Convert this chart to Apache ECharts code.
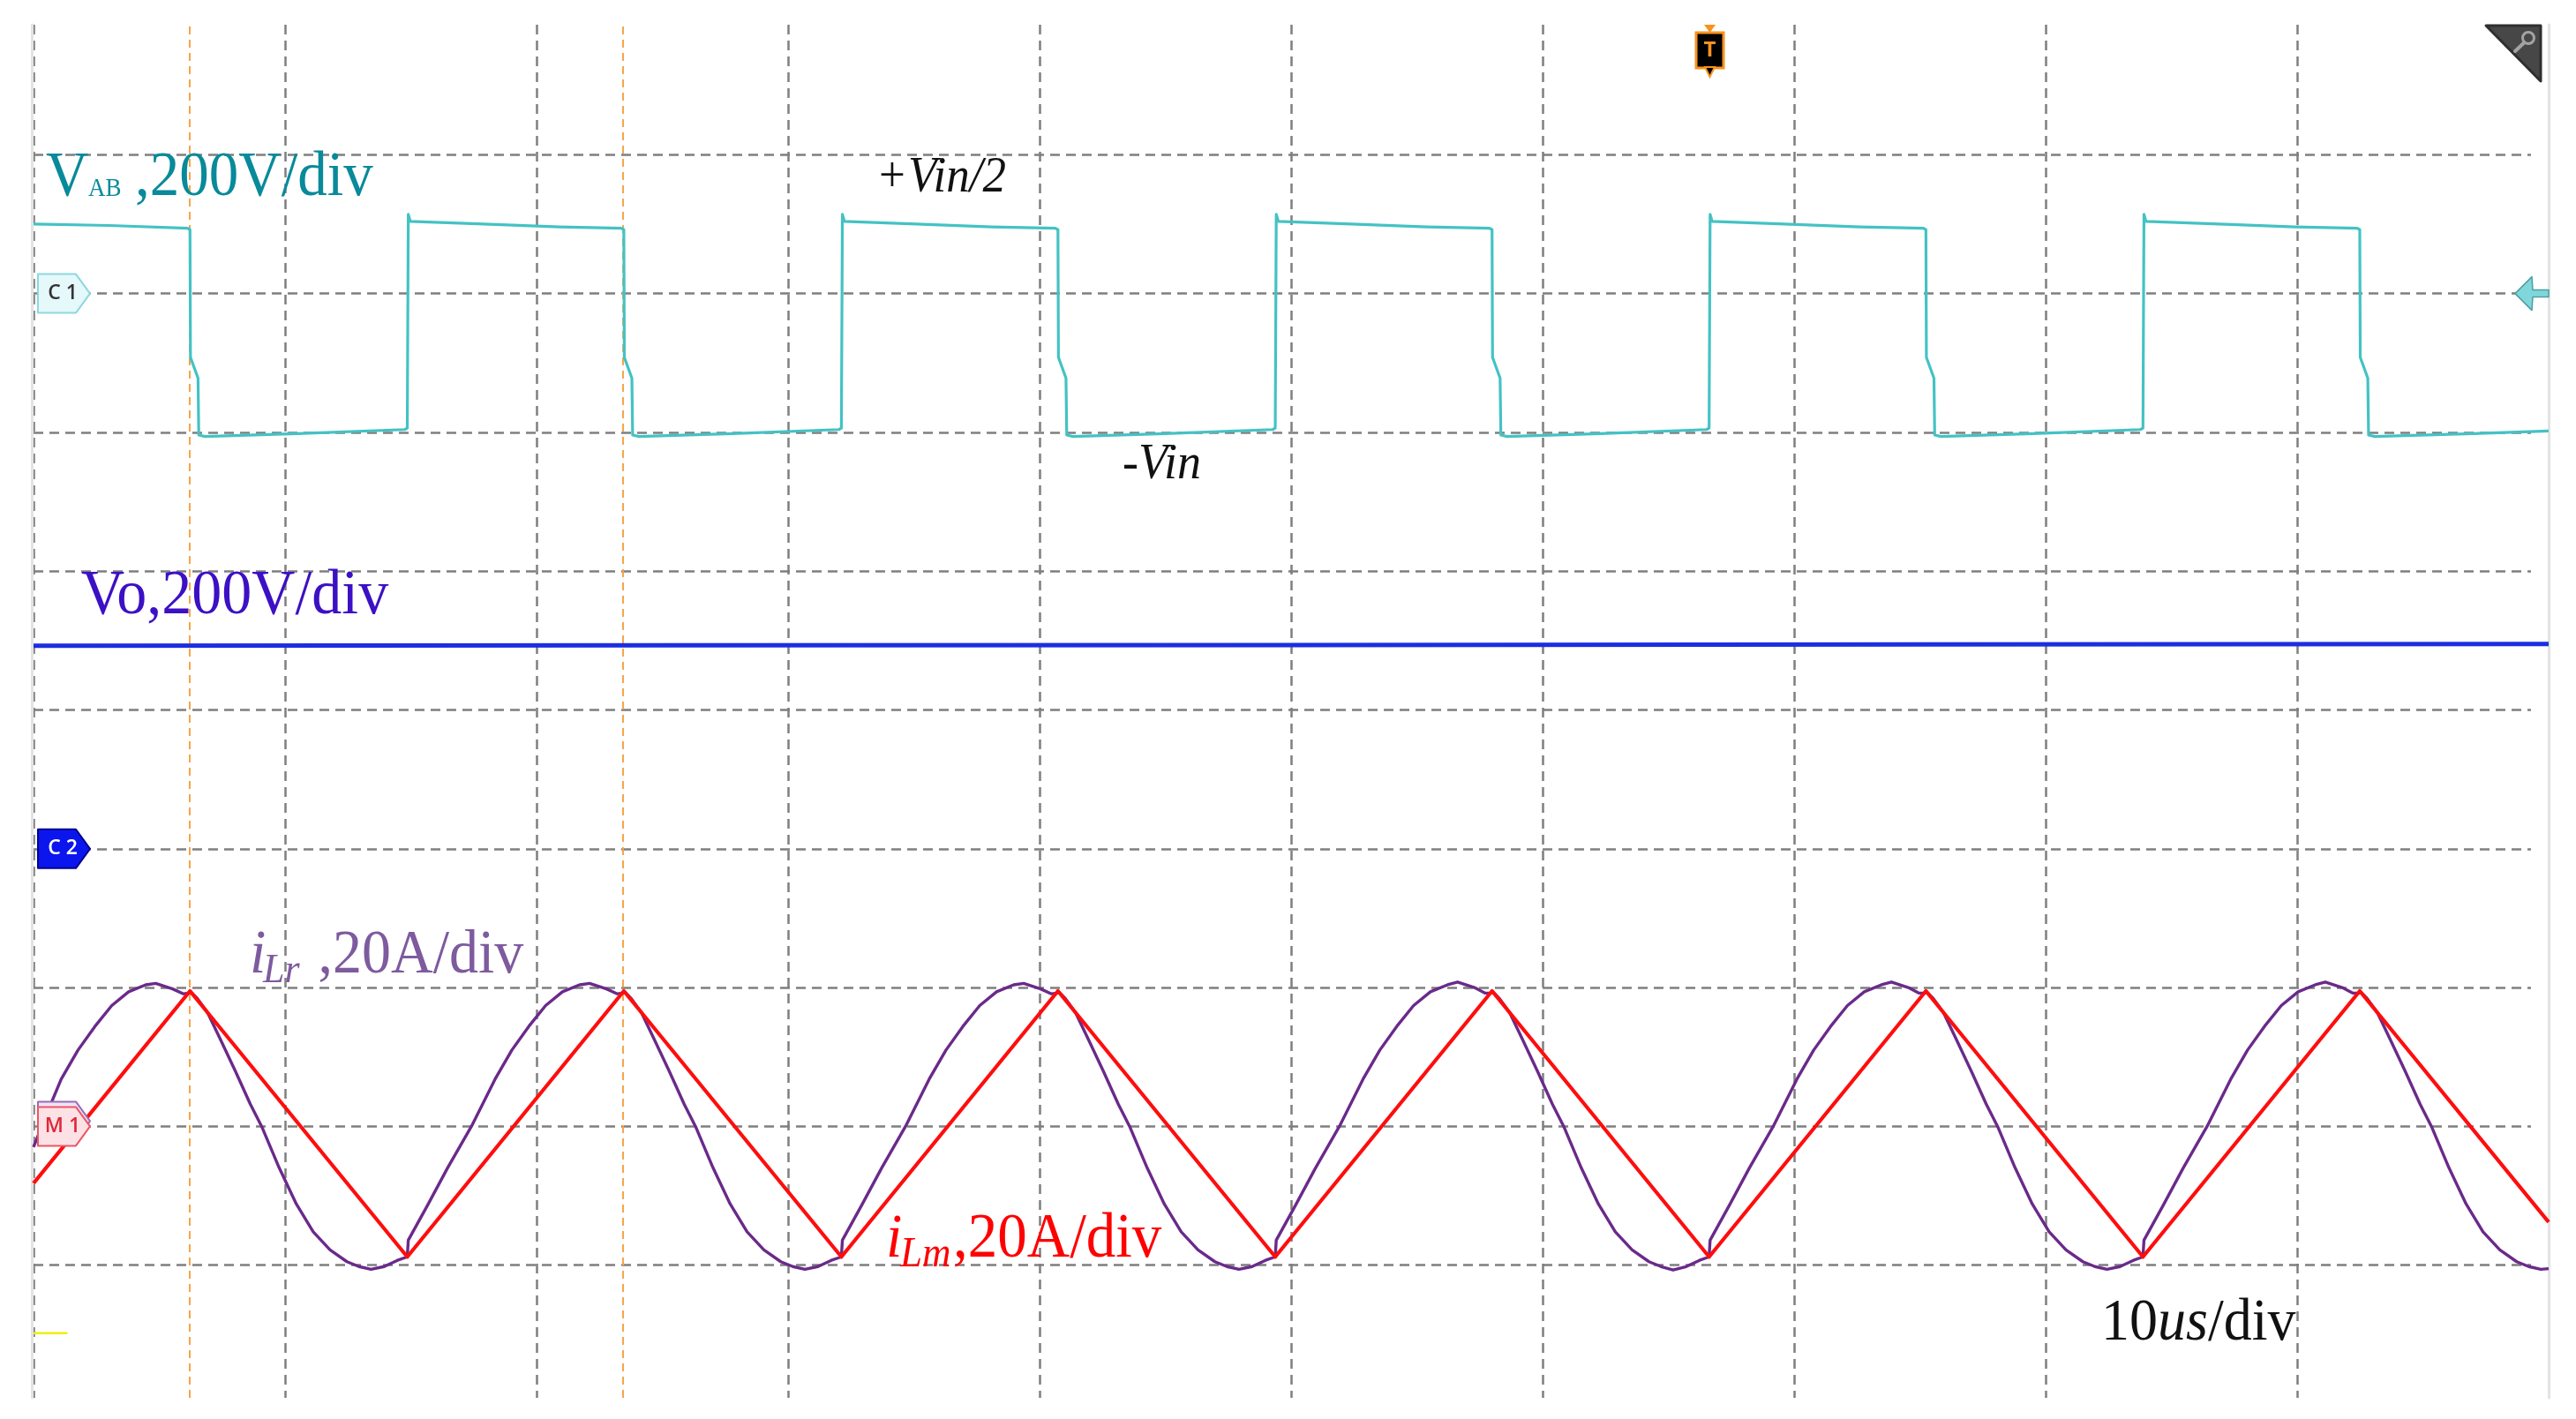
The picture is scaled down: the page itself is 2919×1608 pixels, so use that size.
<!DOCTYPE html>
<html>
<head>
<meta charset="utf-8">
<script src="https://cdn.jsdelivr.net/npm/echarts@6/dist/echarts.min.js"></script>
<style>
html,body{margin:0;padding:0;background:#ffffff;}
#chart{width:2919px;height:1608px;}
</style>
</head>
<body>
<div id="chart"></div>
<script>
// ---------------- data (screen divisions: 10 horizontal x 10 vertical, 10us/div) ----------------
const xDivMin = 0, xDivMax = 10;
const yDivMin = 0, yDivMax = 10;

// cursor (orange) positions, in divisions
const cursorTimes = [0.621, 2.344];

// channel reference levels (divisions)
const levelC1 = 8;   // VAB zero
const levelC2 = 4;   // Vo zero
const levelM1 = 2;   // current zero
const yellowLevel = 0.51;

// VAB trace [time(div), level(div)]
const vabPoints = [
  [0, 8.50], [0.30, 8.49], [0.612, 8.47],
  [0.622, 8.46], [0.624, 7.54], [0.654, 7.39], [0.657, 6.98], [0.682, 6.97], [1.05, 6.99], [1.476, 7.02], [1.486, 7.03],
  [1.490, 8.57], [1.498, 8.52], [1.79, 8.50], [2.09, 8.48], [2.337, 8.47],
  [2.347, 8.46], [2.349, 7.54], [2.379, 7.39], [2.382, 6.98], [2.407, 6.97], [2.78, 6.99], [3.202, 7.02], [3.212, 7.03],
  [3.216, 8.57], [3.224, 8.52], [3.51, 8.50], [3.81, 8.48], [4.063, 8.47],
  [4.073, 8.46], [4.075, 7.54], [4.105, 7.39], [4.108, 6.98], [4.133, 6.97], [4.50, 6.99], [4.927, 7.02], [4.937, 7.03],
  [4.941, 8.57], [4.949, 8.52], [5.24, 8.50], [5.54, 8.48], [5.789, 8.47],
  [5.799, 8.46], [5.801, 7.54], [5.831, 7.39], [5.834, 6.98], [5.859, 6.97], [6.23, 6.99], [6.652, 7.02], [6.662, 7.03],
  [6.666, 8.57], [6.674, 8.52], [6.96, 8.50], [7.26, 8.48], [7.514, 8.47],
  [7.524, 8.46], [7.526, 7.54], [7.556, 7.39], [7.559, 6.98], [7.584, 6.97], [7.95, 6.99], [8.377, 7.02], [8.387, 7.03],
  [8.391, 8.57], [8.399, 8.52], [8.69, 8.50], [8.99, 8.48], [9.239, 8.47],
  [9.249, 8.46], [9.251, 7.54], [9.281, 7.39], [9.284, 6.98], [9.309, 6.97], [9.70, 6.99], [10, 7.01]
];

// Vo trace
const voPoints = [[0, 5.462], [2.5, 5.466], [5, 5.468], [7.5, 5.472], [10, 5.476]];

// iLm (triangular) trace
const ilmTimes  = [0, 0.622, 1.486, 2.347, 3.212, 4.073, 4.937, 5.799, 6.662, 7.524, 8.387, 9.249, 10];
const ilmValues = [1.59, 2.975, 1.06, 2.975, 1.06, 2.975, 1.06, 2.975, 1.06, 2.975, 1.06, 2.975, 1.31];

// iLr (resonant) trace
const ilrPoints = [
  [0, 1.85], [0.05, 2.08], [0.110, 2.34], [0.177, 2.55], [0.244, 2.72], [0.311, 2.87], [0.378, 2.97], [0.446, 3.02], [0.486, 3.03], [0.553, 2.99], [0.596, 2.955], [0.619, 2.96],
  [0.622, 2.975], [0.652, 2.92], [0.692, 2.82], [0.742, 2.63], [0.802, 2.40], [0.862, 2.16], [0.907, 2.00], [0.977, 1.70], [1.045, 1.44], [1.112, 1.24], [1.179, 1.11], [1.246, 1.025], [1.294, 0.99], [1.342, 0.97], [1.394, 0.99], [1.447, 1.035],
  [1.486, 1.06], [1.490, 1.18], [1.566, 1.43], [1.646, 1.70], [1.741, 2.00], [1.835, 2.34], [1.902, 2.55], [1.969, 2.72], [2.036, 2.87], [2.103, 2.97], [2.171, 3.02], [2.211, 3.03], [2.278, 2.99], [2.321, 2.955], [2.344, 2.96],
  [2.347, 2.975], [2.377, 2.92], [2.417, 2.82], [2.467, 2.63], [2.527, 2.40], [2.587, 2.16], [2.632, 2.00], [2.702, 1.70], [2.770, 1.44], [2.837, 1.24], [2.904, 1.11], [2.971, 1.025], [3.019, 0.99], [3.067, 0.97], [3.119, 0.99], [3.172, 1.035],
  [3.212, 1.06], [3.216, 1.18], [3.292, 1.43], [3.372, 1.70], [3.467, 2.00], [3.561, 2.34], [3.628, 2.55], [3.695, 2.72], [3.762, 2.87], [3.829, 2.97], [3.897, 3.02], [3.937, 3.03], [4.004, 2.99], [4.047, 2.955], [4.070, 2.96],
  [4.073, 2.975], [4.103, 2.92], [4.143, 2.82], [4.193, 2.63], [4.253, 2.40], [4.313, 2.16], [4.358, 2.00], [4.428, 1.70], [4.496, 1.44], [4.563, 1.24], [4.630, 1.11], [4.697, 1.025], [4.745, 0.99], [4.793, 0.97], [4.845, 0.99], [4.898, 1.035],
  [4.937, 1.06], [4.941, 1.18], [5.017, 1.43], [5.097, 1.70], [5.192, 2.00], [5.286, 2.34], [5.353, 2.55], [5.420, 2.72], [5.487, 2.87], [5.554, 2.97], [5.622, 3.02], [5.662, 3.04], [5.729, 3.00], [5.772, 2.96], [5.795, 2.96],
  [5.799, 2.975], [5.829, 2.92], [5.869, 2.82], [5.919, 2.63], [5.979, 2.40], [6.039, 2.16], [6.084, 2.00], [6.154, 1.70], [6.222, 1.44], [6.289, 1.24], [6.356, 1.11], [6.423, 1.025], [6.471, 0.99], [6.519, 0.965], [6.571, 0.99], [6.624, 1.035],
  [6.662, 1.06], [6.666, 1.18], [6.742, 1.43], [6.822, 1.70], [6.917, 2.00], [7.011, 2.34], [7.078, 2.55], [7.145, 2.72], [7.212, 2.87], [7.279, 2.97], [7.347, 3.02], [7.387, 3.04], [7.454, 3.00], [7.497, 2.96], [7.520, 2.96],
  [7.524, 2.975], [7.554, 2.92], [7.594, 2.82], [7.644, 2.63], [7.704, 2.40], [7.764, 2.16], [7.809, 2.00], [7.879, 1.70], [7.947, 1.44], [8.014, 1.24], [8.081, 1.11], [8.148, 1.025], [8.196, 0.99], [8.244, 0.97], [8.296, 0.99], [8.349, 1.035],
  [8.387, 1.06], [8.391, 1.18], [8.467, 1.43], [8.547, 1.70], [8.642, 2.00], [8.736, 2.34], [8.803, 2.55], [8.870, 2.72], [8.937, 2.87], [9.004, 2.97], [9.072, 3.02], [9.112, 3.04], [9.179, 3.00], [9.222, 2.96], [9.245, 2.96],
  [9.249, 2.975], [9.279, 2.92], [9.319, 2.82], [9.369, 2.63], [9.429, 2.40], [9.489, 2.16], [9.534, 2.00], [9.604, 1.70], [9.672, 1.44], [9.739, 1.24], [9.806, 1.11], [9.873, 1.025], [9.921, 0.99], [9.969, 0.97], [10, 0.975]
];

// short yellow reference stub at lower left
const yellowRef = [[0, yellowLevel], [0.135, yellowLevel]];

// ---------------- chart ----------------
const chart = echarts.init(document.getElementById('chart'), null, {renderer: 'canvas'});

const gridDash = {color: '#7f7f7f', width: 2.5, type: [11, 7]};
const hidden = {show: false};

const ilmPoints = ilmTimes.map((t, i) => [t, ilmValues[i]]);

const option = {
  animation: false,
  backgroundColor: '#ffffff',
  grid: [
    {left: 38, right: 31, top: 18, bottom: 17},   // traces
    {left: 38, right: 51, top: 18, bottom: 17},   // horizontal graticule
    {left: 38, right: 31, top: 28, bottom: 24}    // vertical graticule, border, cursors
  ],
  xAxis: [
    {gridIndex: 0, type: 'value', min: xDivMin, max: xDivMax, show: false},
    {gridIndex: 1, type: 'value', min: xDivMin, max: xDivMax, show: false},
    {gridIndex: 2, type: 'value', min: xDivMin, max: xDivMax, interval: 1,
     axisLine: hidden, axisTick: hidden, axisLabel: hidden,
     splitLine: {show: true, showMinLine: true, showMaxLine: false, lineStyle: gridDash}}
  ],
  yAxis: [
    {gridIndex: 0, type: 'value', min: yDivMin, max: yDivMax, show: false},
    {gridIndex: 1, type: 'value', min: yDivMin, max: yDivMax, interval: 1,
     axisLine: hidden, axisTick: hidden, axisLabel: hidden,
     splitLine: {show: true, showMinLine: false, showMaxLine: false, lineStyle: gridDash}},
    {gridIndex: 2, type: 'value', min: yDivMin, max: yDivMax, position: 'left', offset: 2,
     axisLine: {show: true, onZero: false, lineStyle: {color: '#e3e3e3', width: 3}},
     axisTick: hidden, axisLabel: hidden, splitLine: hidden},
    {gridIndex: 2, type: 'value', min: yDivMin, max: yDivMax, position: 'right',
     axisLine: {show: true, onZero: false, lineStyle: {color: '#e3e3e3', width: 3}},
     axisTick: hidden, axisLabel: hidden, splitLine: hidden}
  ],
  series: [
    ...cursorTimes.map(t => ({
      type: 'line', xAxisIndex: 2, yAxisIndex: 2, z: 1, silent: true, showSymbol: false,
      data: [[t, yDivMin], [t, yDivMax]],
      lineStyle: {color: '#f6a44a', width: 2, type: [9, 6]}
    })),
    {name: 'yellow', type: 'line', xAxisIndex: 0, yAxisIndex: 0, z: 2, showSymbol: false,
     data: yellowRef, lineStyle: {color: '#eeee10', width: 2.5}},
    {name: 'VAB', type: 'line', xAxisIndex: 0, yAxisIndex: 0, z: 3, showSymbol: false,
     data: vabPoints, lineStyle: {color: '#44c2c4', width: 3.2, join: 'round'}},
    {name: 'Vo', type: 'line', xAxisIndex: 0, yAxisIndex: 0, z: 3, showSymbol: false,
     data: voPoints, lineStyle: {color: '#1c2ee0', width: 5}},
    {name: 'iLr', type: 'line', xAxisIndex: 0, yAxisIndex: 0, z: 4, showSymbol: false,
     smooth: false,
     data: ilrPoints, lineStyle: {color: '#6a2a8a', width: 3.4, join: 'round'}},
    {name: 'iLm', type: 'line', xAxisIndex: 0, yAxisIndex: 0, z: 5, showSymbol: false,
     data: ilmPoints, lineStyle: {color: '#ff0d0d', width: 4.2, join: 'round'}}
  ]
};
chart.setOption(option);

// ---------------- annotations ----------------
const toPx = (x, y) => chart.convertToPixel({xAxisIndex: 0, yAxisIndex: 0}, [x, y]);
const SERIF = '"Times New Roman","Liberation Serif",serif';
const MID = 0.3375;
function txt(x, base, s, size, color, italic, sy) {
  return {
    type: 'text', x: x, y: base, scaleY: sy == null ? 1.07 : sy, z: 60,
    style: {
      x: 0, y: -MID * size, text: s, fill: color,
      font: (italic ? 'italic ' : '') + size + 'px ' + SERIF,
      textAlign: 'left', textVerticalAlign: 'middle', align: 'left', verticalAlign: 'middle'
    }
  };
}
function tag(cy, fill, stroke, label, labelColor, dy) {
  const o = dy || 0;
  return [
    {type: 'polygon', z: 70,
     shape: {points: [[43, cy - 22 + o], [86, cy - 22 + o], [102, cy + o], [86, cy + 22 + o], [43, cy + 22 + o]]},
     style: {fill: fill, stroke: stroke, lineWidth: 2, lineJoin: 'round'}},
    label ? {type: 'text', z: 71, x: 71, y: cy + o,
     style: {text: label, fill: labelColor, font: '600 23px "Open Sans", sans-serif',
             textAlign: 'center', textVerticalAlign: 'middle', align: 'center', verticalAlign: 'middle'}} : null
  ].filter(Boolean);
}

const yC1 = toPx(0, levelC1)[1];
const yC2 = toPx(0, levelC2)[1];
const yM1 = toPx(0, levelM1)[1];
const xRight = toPx(xDivMax, 0)[0];

const teal = '#088a9a';
const graphics = [
  // VAB label
  txt(52, 226, 'V', 67, teal, false),
  txt(100, 224, 'AB', 27, teal, false),
  txt(153, 226, ',200V/div', 67, teal, false),
  // Vin annotations
  txt(996, 221, '+', 53, '#111', false),
  txt(1029, 221, 'Vin/2', 53, '#111', true),
  txt(1272, 546, '-Vin', 54, '#111', true),
  // Vo label
  txt(92, 700, 'Vo,200V/div', 68, '#3c10c4', false),
  // iLr label
  txt(283, 1107, 'i', 66, '#7e5a9e', true),
  txt(298, 1117, 'Lr', 44, '#7e5a9e', true),
  txt(344, 1107, ' ,20A/div', 66, '#7e5a9e', false),
  // iLm label
  txt(1004, 1429, 'i', 66, '#ff0000', true),
  txt(1020, 1439, 'Lm', 45, '#ff0000', true),
  txt(1080, 1429, ',20A/div', 67, '#ff0000', false),
  // time base
  txt(2381, 1523, '10', 64, '#111', false),
  txt(2445, 1523, 'us', 64, '#111', true),
  txt(2502, 1523, '/div', 64, '#111', false),

  // channel tags
  ...tag(yC1, '#e5f8fa', '#8dd8de', 'C 1', '#333333'),
  ...tag(yC2, '#0b16ee', '#03038f', 'C 2', '#ffffff'),
  ...tag(yM1 - 6, '#efe4f6', '#9a6cb8', null, null),
  ...tag(yM1, '#fde2e5', '#ee5566', 'M 1', '#e2263a'),

  // right-side C1 offset arrow
  {type: 'polygon', z: 70,
   shape: {points: [[xRight - 38, yC1], [xRight - 19, yC1 - 19], [xRight - 18, yC1 - 4], [xRight, yC1 - 4],
                    [xRight, yC1 + 4], [xRight - 18, yC1 + 4], [xRight - 19, yC1 + 19]]},
   style: {fill: '#7fd7db', stroke: '#4e9ea3', lineWidth: 1.5, lineJoin: 'round'}},

  // trigger marker
  {type: 'polygon', z: 70, shape: {points: [[1931, 28], [1944, 28], [1937.5, 37]]}, style: {fill: '#f7931e'}},
  {type: 'rect', z: 70, shape: {x: 1922, y: 37, width: 31, height: 40}, style: {fill: '#000000', stroke: '#f7931e', lineWidth: 3}},
  {type: 'polygon', z: 70, shape: {points: [[1932, 76], [1943, 76], [1937.5, 87]]}, style: {fill: '#000000', stroke: '#f7931e', lineWidth: 2}},
  {type: 'text', z: 71, x: 1937.5, y: 57,
   style: {text: 'T', fill: '#f7931e', font: 'bold 24px "Open Sans", sans-serif',
           textAlign: 'center', textVerticalAlign: 'middle', align: 'center', verticalAlign: 'middle'}},

  // zoom / magnifier corner icon
  {type: 'polygon', z: 70, shape: {points: [[2817, 29], [2879, 29], [2879, 92]]},
   style: {fill: '#474747', stroke: '#2f2f2f', lineWidth: 3, lineJoin: 'round'}},
  {type: 'circle', z: 71, shape: {cx: 2865, cy: 43, r: 6.5}, style: {fill: 'none', stroke: '#a3a3a3', lineWidth: 3}},
  {type: 'line', z: 71, shape: {x1: 2860, y1: 48.5, x2: 2850, y2: 58}, style: {stroke: '#a3a3a3', lineWidth: 4, lineCap: 'round'}}
];

chart.setOption({graphic: graphics});
</script>
</body>
</html>
